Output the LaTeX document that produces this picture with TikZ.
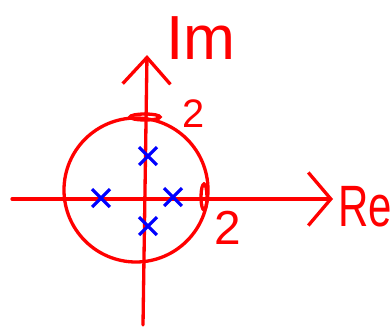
\documentclass[tikz,border=0pt]{standalone}
\usepackage{fontspec}
\setmainfont{Liberation Sans}
\usetikzlibrary{arrows.meta,shapes.misc}

\begin{document}
\begin{tikzpicture}[x=0.0265cm,y=-0.0265cm,line width=2.5pt,
    axis/.style={red,line cap=round},
    label/.style={red,inner sep=0pt},
    pole/.style={cross out,draw=blue,line width=2.4pt,minimum size=11pt,inner sep=0pt}]
    \useasboundingbox (0,0) rectangle (392,329);

    \coordinate (west) at (12,199);
    \coordinate (east) at (333,199);
    \coordinate (south) at (143,325);
    \coordinate (north) at (147,55);
    \coordinate (O) at (136,190);

    \node[label,font=\fontsize{47}{47}\selectfont] (im) at (201,38) {Im};
    \node[label,font=\fontsize{44}{44}\selectfont] (re) at (365,207) {\scalebox{0.72}[1]{Re}};
    \node[label,font=\fontsize{30}{30}\selectfont] (two1) at (194,114) {2};
    \node[label,font=\fontsize{36}{36}\selectfont] (two2) at (228,228) {2};

    \draw[axis,-{Straight Barb[length=17pt,width=40pt]}] (west) -- (east);
    \draw[axis,-{Straight Barb[length=20pt,width=36pt]}] (south) -- (north);
    \draw[red] (O) circle[radius=72];
    \draw[red] (145,117) ellipse[x radius=15,y radius=3];
    \draw[red] (204,197) ellipse[x radius=3,y radius=13];

    \node[pole] (p1) at (148,156) {};
    \node[pole] (p2) at (101,198) {};
    \node[pole] (p3) at (173,197) {};
    \node[pole] (p4) at (148,226) {};
\end{tikzpicture}
\end{document}
